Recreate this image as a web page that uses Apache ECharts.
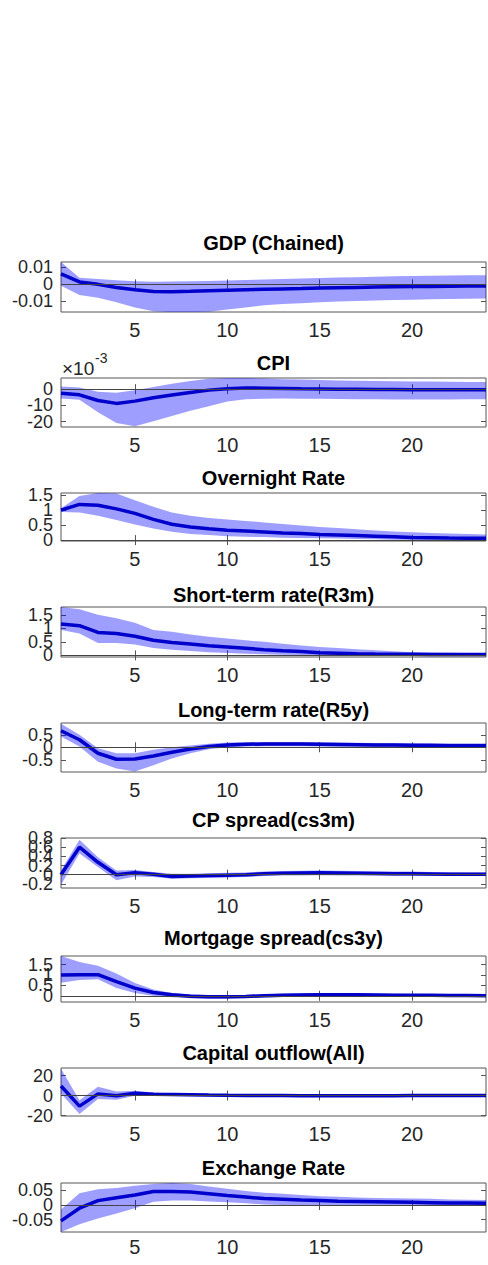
<!DOCTYPE html>
<html>
<head>
<meta charset="utf-8">
<script src="https://cdn.jsdelivr.net/npm/echarts@6/dist/echarts.min.js"></script>
<style>
  html, body { margin: 0; padding: 0; background: #fff; }
  #chart { width: 488px; height: 1265px; }
</style>
</head>
<body>
<div id="chart"></div>
<script>
// horizons
const steps = [1, 2, 3, 4, 5, 6, 7, 8, 9, 10, 11, 12, 13, 14, 15, 16, 17, 18, 19, 20, 21, 22, 23, 24]
const xTicks = [5, 10, 15, 20]

// GDP (Chained)
const gdpMean = [0.0061, 0.0014, 0.0, -0.0018, -0.0032, -0.0042, -0.0043, -0.0041, -0.0038, -0.0035, -0.0032, -0.0029, -0.0027, -0.0025, -0.0022, -0.002, -0.0018, -0.0016, -0.0014, -0.0013, -0.0012, -0.0011, -0.001, -0.0009]
const gdpHigh = [0.0131, 0.0038, 0.0031, 0.0024, 0.0018, 0.0015, 0.0016, 0.0018, 0.002, 0.0022, 0.0025, 0.0028, 0.0031, 0.0034, 0.0037, 0.004, 0.0042, 0.0045, 0.0047, 0.0049, 0.0051, 0.0052, 0.0053, 0.0054]
const gdpLow = [-0.0008, -0.0062, -0.0078, -0.0105, -0.0135, -0.0157, -0.0163, -0.0163, -0.016, -0.0148, -0.0135, -0.0122, -0.0115, -0.011, -0.0105, -0.0101, -0.0098, -0.0095, -0.0092, -0.009, -0.0088, -0.0086, -0.0084, -0.0083]
const gdpTicks = [-0.01, 0, 0.01]

// CPI (x 10^-3)
const cpiMean = [-2.5, -3.5, -7.0, -8.8, -7.4, -5.3, -3.6, -2.0, -0.6, 0.3, 0.7, 0.6, 0.4, 0.2, 0.1, 0.0, -0.1, -0.2, -0.2, -0.3, -0.3, -0.3, -0.3, -0.3]
const cpiHigh = [1.6, 1.0, -1.6, -2.2, -0.6, 1.4, 3.3, 5.0, 6.4, 6.9, 6.9, 6.6, 6.2, 5.9, 5.6, 5.4, 5.2, 5.0, 4.9, 4.8, 4.7, 4.6, 4.5, 4.5]
const cpiLow = [-5.8, -6.6, -14.3, -21.0, -23.0, -19.8, -16.6, -13.4, -10.6, -7.6, -6.3, -5.9, -5.8, -5.9, -6.0, -6.1, -6.2, -6.3, -6.4, -6.4, -6.4, -6.4, -6.3, -6.2]
const cpiTicks = [-20, -10, 0]

// Overnight Rate
const onMean = [1.0, 1.19, 1.16, 1.04, 0.89, 0.69, 0.53, 0.44, 0.38, 0.33, 0.3, 0.27, 0.24, 0.22, 0.19, 0.17, 0.15, 0.13, 0.11, 0.09, 0.08, 0.07, 0.065, 0.06]
const onHigh = [1.06, 1.47, 1.57, 1.55, 1.33, 1.11, 0.92, 0.81, 0.74, 0.69, 0.64, 0.59, 0.54, 0.49, 0.44, 0.4, 0.36, 0.32, 0.29, 0.26, 0.24, 0.22, 0.2, 0.19]
const onLow = [0.94, 0.92, 0.81, 0.67, 0.52, 0.39, 0.28, 0.2, 0.17, 0.13, 0.11, 0.1, 0.08, 0.07, 0.06, 0.05, 0.04, 0.03, 0.01, 0.0, 0.0, -0.01, -0.02, -0.02]
const onTicks = [0, 0.5, 1, 1.5]

// Short-term rate(R3m)
const r3mMean = [1.16, 1.1, 0.85, 0.81, 0.71, 0.56, 0.48, 0.42, 0.36, 0.31, 0.26, 0.21, 0.17, 0.14, 0.1, 0.08, 0.06, 0.05, 0.045, 0.04, 0.035, 0.03, 0.03, 0.03]
const r3mHigh = [1.79, 1.71, 1.5, 1.37, 1.21, 0.94, 0.87, 0.77, 0.69, 0.62, 0.56, 0.5, 0.43, 0.37, 0.31, 0.27, 0.23, 0.19, 0.15, 0.12, 0.11, 0.1, 0.09, 0.09]
const r3mLow = [0.94, 0.81, 0.46, 0.46, 0.4, 0.27, 0.21, 0.16, 0.12, 0.09, 0.06, 0.04, 0.02, 0.01, 0.0, -0.01, -0.01, -0.02, -0.02, -0.02, -0.02, -0.02, -0.02, -0.02]
const r3mTicks = [0, 0.5, 1, 1.5]

// Long-term rate(R5y)
const r5yMean = [0.66, 0.3, -0.24, -0.48, -0.47, -0.35, -0.2, -0.07, 0.03, 0.09, 0.12, 0.13, 0.13, 0.13, 0.12, 0.11, 0.1, 0.09, 0.09, 0.08, 0.08, 0.07, 0.07, 0.07]
const r5yHigh = [0.94, 0.5, -0.04, -0.24, -0.24, -0.1, 0.0, 0.07, 0.14, 0.19, 0.2, 0.21, 0.21, 0.21, 0.2, 0.19, 0.18, 0.17, 0.16, 0.15, 0.14, 0.13, 0.12, 0.12]
const r5yLow = [0.43, 0.03, -0.58, -0.85, -0.97, -0.72, -0.45, -0.24, -0.08, 0.0, 0.03, 0.04, 0.04, 0.04, 0.03, 0.02, 0.02, 0.01, 0.01, 0.0, 0.0, 0.0, 0.0, 0.0]
const r5yTicks = [-0.5, 0, 0.5]

// CP spread(cs3m)
const cpMean = [0.0, 0.6, 0.27, 0.0, 0.04, 0.01, -0.04, -0.03, -0.02, -0.01, 0.0, 0.02, 0.03, 0.035, 0.04, 0.035, 0.03, 0.025, 0.02, 0.02, 0.015, 0.01, 0.01, 0.01]
const cpHigh = [0.09, 0.76, 0.38, 0.09, 0.1, 0.06, 0.02, 0.02, 0.03, 0.04, 0.05, 0.07, 0.08, 0.085, 0.09, 0.085, 0.08, 0.075, 0.07, 0.07, 0.06, 0.055, 0.05, 0.05]
const cpLow = [-0.22, 0.46, 0.17, -0.12, -0.04, -0.05, -0.09, -0.08, -0.07, -0.06, -0.05, -0.03, -0.02, -0.015, -0.01, -0.015, -0.02, -0.02, -0.025, -0.03, -0.03, -0.03, -0.03, -0.03]
const cpTicks = [-0.2, 0, 0.2, 0.4, 0.6, 0.8]

// Mortgage spread(cs3y)
const mtgMean = [1.0, 1.02, 1.02, 0.68, 0.37, 0.16, 0.05, -0.02, -0.05, -0.05, -0.03, 0.0, 0.02, 0.04, 0.05, 0.05, 0.05, 0.04, 0.03, 0.03, 0.02, 0.01, 0.01, 0.0]
const mtgHigh = [1.92, 1.63, 1.45, 1.08, 0.62, 0.3, 0.14, 0.07, 0.03, 0.02, 0.04, 0.07, 0.1, 0.12, 0.13, 0.13, 0.12, 0.11, 0.1, 0.09, 0.08, 0.07, 0.06, 0.06]
const mtgLow = [0.63, 0.76, 0.8, 0.37, 0.13, 0.0, -0.07, -0.12, -0.14, -0.14, -0.11, -0.08, -0.06, -0.05, -0.05, -0.05, -0.05, -0.05, -0.05, -0.05, -0.05, -0.05, -0.06, -0.06]
const mtgTicks = [0, 0.5, 1, 1.5]

// Capital outflow(All)
const capMean = [9.5, -10.6, 1.6, -0.3, 2.3, 1.3, 1.0, 0.7, 0.4, 0.2, 0.1, 0.0, -0.1, -0.2, -0.3, -0.3, -0.3, -0.2, -0.2, -0.1, -0.1, 0.0, 0.0, 0.0]
const capHigh = [26.8, -4.8, 8.7, 3.9, 4.8, 3.0, 2.2, 1.8, 1.5, 1.2, 1.0, 0.9, 0.8, 0.7, 0.7, 0.7, 0.7, 0.8, 0.8, 0.9, 0.9, 1.0, 1.0, 1.0]
const capLow = [2.0, -18.6, -3.5, -4.2, -0.3, -0.6, -0.6, -0.8, -1.0, -1.2, -1.3, -1.3, -1.3, -1.3, -1.3, -1.3, -1.2, -1.2, -1.1, -1.1, -1.0, -1.0, -1.0, -1.0]
const capTicks = [-20, 0, 20]

// Exchange Rate
const fxMean = [-0.054, -0.011, 0.015, 0.025, 0.034, 0.046, 0.046, 0.044, 0.038, 0.032, 0.027, 0.022, 0.02, 0.017, 0.015, 0.013, 0.012, 0.011, 0.01, 0.009, 0.008, 0.007, 0.007, 0.006]
const fxHigh = [-0.015, 0.04, 0.054, 0.058, 0.066, 0.072, 0.075, 0.072, 0.063, 0.055, 0.048, 0.042, 0.038, 0.034, 0.03, 0.028, 0.026, 0.024, 0.023, 0.022, 0.021, 0.019, 0.018, 0.017]
const fxLow = [-0.092, -0.066, -0.046, -0.029, -0.011, 0.011, 0.015, 0.015, 0.012, 0.009, 0.006, 0.002, 0.0, -0.001, -0.002, -0.002, -0.003, -0.003, -0.003, -0.003, -0.003, -0.003, -0.003, -0.003]
const fxTicks = [-0.05, 0, 0.05]

const panels = [
  { title: 'GDP (Chained)', mean: gdpMean, high: gdpHigh, low: gdpLow, ticks: gdpTicks, min: -0.0162, max: 0.0131 },
  { title: 'CPI', mean: cpiMean, high: cpiHigh, low: cpiLow, ticks: cpiTicks, min: -23.4, max: 6.9 },
  { title: 'Overnight Rate', mean: onMean, high: onHigh, low: onLow, ticks: onTicks, min: -0.03, max: 1.57 },
  { title: 'Short-term rate(R3m)', mean: r3mMean, high: r3mHigh, low: r3mLow, ticks: r3mTicks, min: -0.06, max: 1.79 },
  { title: 'Long-term rate(R5y)', mean: r5yMean, high: r5yHigh, low: r5yLow, ticks: r5yTicks, min: -0.99, max: 0.97 },
  { title: 'CP spread(cs3m)', mean: cpMean, high: cpHigh, low: cpLow, ticks: cpTicks, min: -0.29, max: 0.8 },
  { title: 'Mortgage spread(cs3y)', mean: mtgMean, high: mtgHigh, low: mtgLow, ticks: mtgTicks, min: -0.3, max: 1.92 },
  { title: 'Capital outflow(All)', mean: capMean, high: capHigh, low: capLow, ticks: capTicks, min: -20.5, max: 27.5 },
  { title: 'Exchange Rate', mean: fxMean, high: fxHigh, low: fxLow, ticks: fxTicks, min: -0.092, max: 0.075 },
]

// layout (px)
const tops = [262, 378, 493, 607, 723, 838, 956, 1068, 1183]
const heights = [50, 49, 48, 50, 49, 50, 46, 48, 49]
const titleY = [243, 363, 478, 595, 710, 820, 938, 1053, 1168]
const xLabelMargin = [8, 8, 8, 8, 8, 8, 8, 8, 5]

const FONT = '"Liberation Sans", Arial, Helvetica, sans-serif'
const FRAME = '#555'
const TXT = '#262626'

const chart = echarts.init(document.getElementById('chart'), null, { renderer: 'svg' })

const grid = [], xAxis = [], yAxis = [], series = [], graphic = []

// confidence band as one polygon: upper edge left->right, lower edge right->left
function bandRenderer(low, high) {
  return function (params, api) {
    if (params.dataIndex !== 0) return null
    const upper = steps.map((s, k) => api.coord([s, high[k]]))
    const lower = steps.map((s, k) => api.coord([s, low[k]])).reverse()
    const cs = params.coordSys
    return {
      type: 'polygon',
      shape: { points: upper.concat(lower) },
      style: { fill: 'rgba(0,0,255,0.38)', stroke: null },
      clipPath: { type: 'rect', shape: { x: cs.x, y: cs.y, width: cs.width, height: cs.height } },
      silent: true,
    }
  }
}

panels.forEach((p, i) => {
  grid.push({
    left: 61, width: 425, top: tops[i], height: heights[i],
    show: true, borderColor: FRAME, borderWidth: 1, backgroundColor: 'transparent',
  })

  const tick = { show: true, inside: true, length: 5, lineStyle: { color: FRAME, width: 1 } }
  const noLine = { axisLine: { show: false }, splitLine: { show: false } }

  xAxis.push({
    gridIndex: i, type: 'value', min: 1, max: 24, position: 'bottom', ...noLine,
    axisTick: { ...tick, customValues: xTicks },
    axisLabel: { customValues: xTicks, fontSize: 20, color: TXT, fontFamily: FONT, margin: xLabelMargin[i] },
  })
  xAxis.push({
    gridIndex: i, type: 'value', min: 1, max: 24, position: 'top', ...noLine,
    axisTick: { ...tick, customValues: xTicks },
    axisLabel: { show: false },
  })

  // left y axes: one per tick label, so the crowded labels all stay (they overlap, as in the source)
  const yi = yAxis.length
  p.ticks.forEach((v, t) => {
    yAxis.push({
      gridIndex: i, type: 'value', min: p.min, max: p.max, position: 'left', ...noLine,
      axisTick: t === 0 ? { ...tick, customValues: p.ticks } : { show: false },
      axisLabel: { customValues: [v], fontSize: 18, color: TXT, fontFamily: FONT, margin: 8 },
    })
  })
  yAxis.push({
    gridIndex: i, type: 'value', min: p.min, max: p.max, position: 'right', ...noLine,
    axisTick: { ...tick, customValues: p.ticks },
    axisLabel: { show: false },
  })

  const xi = i * 2

  // zero reference line, hosted by an invisible copy of the median
  series.push({
    type: 'line', xAxisIndex: xi, yAxisIndex: yi,
    data: steps.map((s, k) => [s, p.mean[k]]),
    symbol: 'none', lineStyle: { opacity: 0 }, silent: true, z: 1,
    markLine: {
      silent: true, symbol: 'none', label: { show: false }, animation: false,
      lineStyle: { color: '#444', width: 1, type: 'solid' },
      data: [{ yAxis: 0 }],
    },
  })
  // confidence band
  series.push({
    type: 'custom', xAxisIndex: xi, yAxisIndex: yi, z: 2,
    data: steps.map((s, k) => [s, p.low[k], p.high[k]]),
    encode: { x: 0, y: [1, 2] },
    renderItem: bandRenderer(p.low, p.high),
  })
  // median response
  series.push({
    type: 'line', xAxisIndex: xi, yAxisIndex: yi, z: 3,
    data: steps.map((s, k) => [s, p.mean[k]]),
    symbol: 'none', silent: true,
    lineStyle: { color: '#0000cc', width: 3.5 },
  })

  graphic.push({
    type: 'text', x: 273.5, y: titleY[i], silent: true,
    style: { text: p.title, font: 'bold 20px ' + FONT, fill: '#000', align: 'center', verticalAlign: 'middle' },
  })
})

// exponent label of the CPI panel
graphic.push({
  type: 'text', x: 62, y: 368, silent: true,
  style: { text: '×10', font: '19px ' + FONT, fill: TXT, align: 'left', verticalAlign: 'middle' },
})
graphic.push({
  type: 'text', x: 95, y: 358, silent: true,
  style: { text: '-3', font: '14px ' + FONT, fill: TXT, align: 'left', verticalAlign: 'middle' },
})

const option = {
  animation: false,
  backgroundColor: '#fff',
  grid, xAxis, yAxis, series, graphic,
}

option && chart.setOption(option)
</script>
</body>
</html>
